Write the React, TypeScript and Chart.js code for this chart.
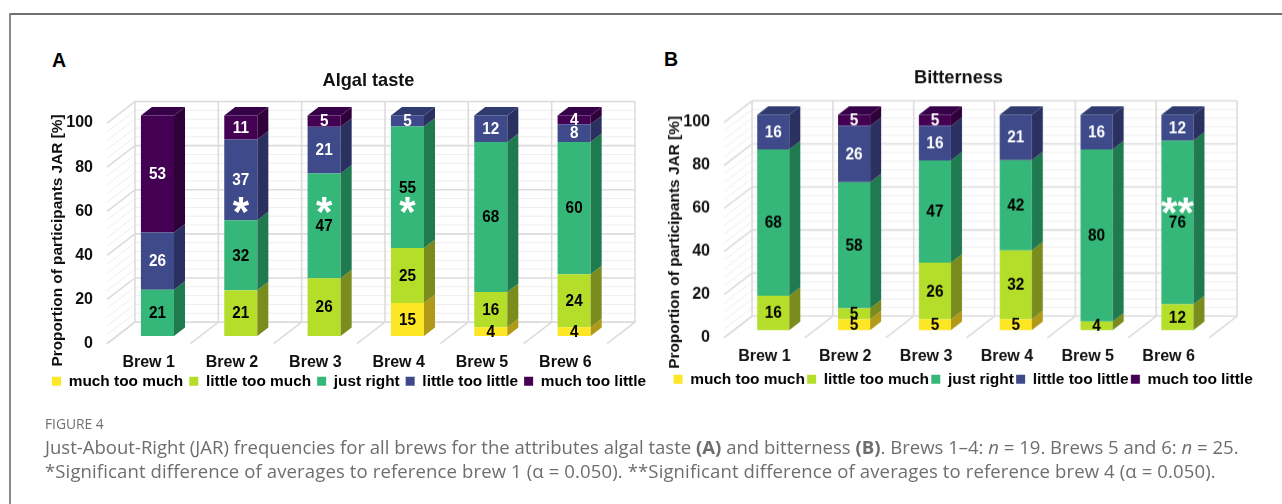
import React, { useEffect, useRef } from "react";
import { Chart, registerables } from "chart.js";

Chart.register(...registerables);

const brews = ["Brew 1", "Brew 2", "Brew 3", "Brew 4", "Brew 5", "Brew 6"];
const seriesNames = ["much too much", "little too much", "just right", "little too little", "much too little"];
const frontColors = ["#FDE725", "#B5DE2B", "#35B779", "#3E4A89", "#440154"];
const sideColors = ["#B09A18", "#7A8C1E", "#1F7A50", "#2A3060", "#2E0139"];
const topColors = ["#D0B81C", "#93A822", "#28915F", "#2F3B6E", "#37014A"];
const labelColors = ["#000", "#000", "#000", "#fff", "#fff"];

const algalMuchTooMuch = [0, 0, 0, 15, 4, 4];
const algalLittleTooMuch = [0, 21, 26, 25, 16, 24];
const algalJustRight = [21, 32, 47, 55, 68, 60];
const algalLittleTooLittle = [26, 37, 21, 5, 12, 8];
const algalMuchTooLittle = [53, 11, 5, 0, 0, 4];

const bitterMuchTooMuch = [0, 5, 5, 5, 0, 0];
const bitterLittleTooMuch = [16, 5, 26, 32, 4, 12];
const bitterJustRight = [68, 58, 47, 42, 80, 76];
const bitterLittleTooLittle = [16, 26, 16, 21, 16, 12];
const bitterMuchTooLittle = [0, 5, 5, 0, 0, 0];

const algalMarks: [number, string, number][] = [[1, "*", 60.6], [2, "*", 60.6], [3, "*", 60.6]];
const bitterMarks: [number, string, number][] = [[5, "**", 59]];

const FONT = '"Liberation Sans", Arial, sans-serif';
const TEXT = "#111";

type Panel = {
  title: string;
  series: number[][];
  marks: [number, string, number][];
  left: number; width: number; height: number;
  yWidth: number; padRight: number; xHeight: number;
  titleTop: number; titleBottom: number;
  legendPad: number; legendAlign: "start" | "end";
  tickPad: number;
  barShare: number;
  titleX: number; titleMid: number;
};

const panelA: Panel = {
  title: "Algal taste",
  series: [algalMuchTooMuch, algalLittleTooMuch, algalJustRight, algalLittleTooLittle, algalMuchTooLittle],
  marks: algalMarks,
  left: 46, width: 645, height: 399, yWidth: 61, padRight: 84, xHeight: 24,
  titleTop: 69.7, titleBottom: 31.5, legendPad: 6, legendAlign: "start", tickPad: 9.4, barShare: 0.397,
  titleX: 58, titleMid: 240.5,
};
const panelB: Panel = {
  title: "Bitterness",
  series: [bitterMuchTooMuch, bitterLittleTooMuch, bitterJustRight, bitterLittleTooLittle, bitterMuchTooLittle],
  marks: bitterMarks,
  left: 662, width: 593, height: 396.5, yWidth: 62, padRight: 46, xHeight: 31.5,
  titleTop: 67.5, titleBottom: 32.7, legendPad: 2.3, legendAlign: "end", tickPad: 8.9, barShare: 0.397,
  titleX: 675, titleMid: 241.7,
};

// depth of the 3D frame and of the bars, as offsets from the front plane
const WALL_DX = 28, WALL_DY = 21.5;
const BAR_DX = 8.8, BAR_DY = 7.5;
const FACE_DX = 11, FACE_DY = 8.5;
const MINOR_STEP = 4;

const frame3d = (panel: Panel) => ({
  id: "frame3d",
  beforeDatasetsDraw(chart: any) {
    const { ctx, scales: { x, y } } = chart;
    const band = (x.right - x.left) / brews.length;
    const y0 = y.getPixelForValue(0), y100 = y.getPixelForValue(100);
    ctx.save();
    ctx.lineCap = "butt";
    for (let v = 0; v <= 100; v += MINOR_STEP) {
      const p = y.getPixelForValue(v);
      ctx.strokeStyle = "#eeeeee"; ctx.lineWidth = 1;
      if (v % 20 !== 0) {
        ctx.beginPath();
        ctx.moveTo(x.left, p); ctx.lineTo(x.left + WALL_DX, p - WALL_DY);
        ctx.lineTo(x.right + WALL_DX, p - WALL_DY);
        ctx.stroke();
      }
    }
    for (let v = 0; v <= 100; v += 20) {
      const p = y.getPixelForValue(v);
      ctx.strokeStyle = "#dcdcdc"; ctx.lineWidth = 1.6;
      ctx.beginPath();
      ctx.moveTo(x.left, p); ctx.lineTo(x.left + WALL_DX, p - WALL_DY);
      ctx.lineTo(x.right + WALL_DX, p - WALL_DY);
      ctx.stroke();
    }
    for (let i = 0; i <= brews.length; i++) {
      const px = x.left + i * band;
      ctx.strokeStyle = "#dcdcdc"; ctx.lineWidth = 1.6;
      ctx.beginPath();
      ctx.moveTo(px, y0); ctx.lineTo(px + WALL_DX, y0 - WALL_DY);
      ctx.lineTo(px + WALL_DX, y100 - WALL_DY);
      ctx.stroke();
    }
    ctx.restore();
    // axis title, placed by hand because it runs lower than the plot's middle
    ctx.save();
    ctx.translate(panel.titleX - panel.left, panel.titleMid);
    ctx.rotate(-Math.PI / 2);
    ctx.font = `bold 15.4px ${FONT}`;
    ctx.fillStyle = TEXT;
    ctx.textAlign = "center";
    ctx.textBaseline = "middle";
    ctx.fillText("Proportion of participants JAR [%]", 0, 0);
    ctx.restore();
    ctx.save();
    ctx.translate(BAR_DX, -BAR_DY);
  },
  afterDatasetsDraw(chart: any) {
    const { ctx, scales: { x, y } } = chart;
    // side and top faces
    chart.data.datasets.forEach((ds: any, d: number) => {
      const meta = chart.getDatasetMeta(d);
      meta.data.forEach((bar: any, i: number) => {
        if (!ds.data[i]) return;
        const right = bar.x + bar.width / 2, left = bar.x - bar.width / 2;
        ctx.fillStyle = sideColors[d];
        ctx.beginPath();
        ctx.moveTo(right, bar.base); ctx.lineTo(right + FACE_DX, bar.base - FACE_DY);
        ctx.lineTo(right + FACE_DX, bar.y - FACE_DY); ctx.lineTo(right, bar.y);
        ctx.closePath(); ctx.fill();
        const above = panel.series.slice(d + 1).some((s) => s[i] > 0);
        if (!above) {
          ctx.fillStyle = topColors[d];
          ctx.beginPath();
          ctx.moveTo(left, bar.y); ctx.lineTo(left + FACE_DX, bar.y - FACE_DY);
          ctx.lineTo(right + FACE_DX, bar.y - FACE_DY); ctx.lineTo(right, bar.y);
          ctx.closePath(); ctx.fill();
        }
      });
    });
    // value labels, narrowed a little as in the reference
    ctx.textAlign = "center";
    ctx.textBaseline = "middle";
    ctx.font = `bold 17.4px ${FONT}`;
    chart.data.datasets.forEach((ds: any, d: number) => {
      const meta = chart.getDatasetMeta(d);
      meta.data.forEach((bar: any, i: number) => {
        const raw = panel.series[d][i];
        if (!raw) return;
        ctx.fillStyle = labelColors[d];
        ctx.save();
        ctx.translate(bar.x, (bar.y + bar.base) / 2 + 0.5);
        ctx.scale(0.88, 1);
        ctx.fillText(String(raw), 0, 0);
        ctx.restore();
      });
    });
    // significance marks
    ctx.fillStyle = "#fff";
    ctx.textBaseline = "alphabetic";
    ctx.font = `bold 42px ${FONT}`;
    panel.marks.forEach(([i, mark, v]) => {
      ctx.fillText(mark, x.getPixelForValue(i), y.getPixelForValue(v) + 23.5);
    });
    ctx.restore();
  },
});

function PanelChart({ panel }: { panel: Panel }) {
  const ref = useRef<HTMLCanvasElement>(null);
  useEffect(() => {
    const totals = brews.map((_, i) => panel.series.reduce((a, s) => a + s[i], 0));
    const chart = new Chart(ref.current!, {
      type: "bar",
      data: {
        labels: brews,
        datasets: seriesNames.map((name, d) => ({
          label: name,
          data: panel.series[d].map((v, i) => (v / totals[i]) * 100),
          backgroundColor: frontColors[d],
          borderWidth: 0,
          clip: false as any,
          categoryPercentage: 1,
          barPercentage: panel.barShare,
        })),
      },
      options: {
        animation: false,
        responsive: false,
        devicePixelRatio: 1,
        layout: { autoPadding: false, padding: 0 },
        plugins: {
          tooltip: { enabled: false },
          title: {
            display: true,
            text: panel.title,
            color: TEXT,
            font: { family: FONT, size: 18.2, weight: "bold", lineHeight: 1.2 },
            padding: { top: panel.titleTop, bottom: panel.titleBottom },
          },
          legend: {
            display: true,
            position: "bottom",
            align: panel.legendAlign,
            labels: {
              boxWidth: 9,
              boxHeight: 9,
              padding: panel.legendPad,
              color: "#000",
              font: { family: FONT, size: 15.4, weight: "bold", lineHeight: 1.2 },
            },
          },
        },
        scales: {
          x: {
            stacked: true,
            grid: { display: false, drawTicks: false },
            border: { display: false },
            ticks: { color: TEXT, padding: panel.tickPad, maxRotation: 0, font: { family: FONT, size: 16, weight: "bold" } },
            afterFit: (s: any) => {
              s.height = panel.xHeight;
              s._computeLabelArea = () => undefined; // labels may run into the legend's box
            },
          },
          y: {
            stacked: true,
            min: 0,
            max: 100,
            grid: { display: false, drawTicks: false },
            border: { display: false },
            ticks: { stepSize: 20, color: TEXT, padding: 14, font: { family: FONT, size: 16, weight: "bold" } },
            afterFit: (s: any) => { s.width = panel.yWidth; },
          },
          spacer: {
            position: "right",
            grid: { display: false },
            border: { display: false },
            ticks: { display: false },
            afterFit: (s: any) => { s.width = panel.padRight; },
          },
        },
      },
      plugins: [frame3d(panel)],
    } as any);
    return () => chart.destroy();
  }, [panel]);
  return (
    <canvas
      ref={ref}
      width={panel.width}
      height={panel.height}
      style={{ position: "absolute", left: panel.left, top: 0, width: panel.width, height: panel.height, filter: "blur(0.4px)" }}
    />
  );
}

const capFont = '"Open Sans", sans-serif';
const capLine: React.CSSProperties = {
  position: "absolute", left: 45, whiteSpace: "nowrap", fontFamily: capFont, fontSize: 18.55,
  color: "#6e6e6e", lineHeight: "20px", filter: "blur(0.3px)",
};
const letter: React.CSSProperties = {
  position: "absolute", fontFamily: FONT, fontWeight: "bold", fontSize: 19.5, color: "#000", lineHeight: "20px",
};

export default function App() {
  return (
    <div style={{ position: "absolute", left: 0, top: 0, width: 1282, height: 504, background: "#fff", overflow: "hidden" }}>
      <div style={{ position: "absolute", left: 9, top: 13, right: 0, height: 1.5, background: "#6f6f6f" }} />
      <div style={{ position: "absolute", left: 9, top: 13, bottom: 0, width: 1.5, background: "#8a8a8a" }} />
      <div style={{ ...letter, left: 52, top: 50 }}>A</div>
      <div style={{ ...letter, left: 664, top: 49 }}>B</div>
      <PanelChart panel={panelB} />
      <PanelChart panel={panelA} />
      <div style={{ ...capLine, top: 414, fontSize: 13.8, color: "#707070" }}>FIGURE 4</div>
      <div style={{ ...capLine, top: 437 }}>
        Just-About-Right (JAR) frequencies for all brews for the attributes algal taste <b>(A)</b> and bitterness <b>(B)</b>. Brews 1–4: <i>n</i> = 19. Brews 5 and 6: <i>n</i> = 25.
      </div>
      <div style={{ ...capLine, top: 461, letterSpacing: 0.12 }}>
        *Significant difference of averages to reference brew 1 (α = 0.050). **Significant difference of averages to reference brew 4 (α = 0.050).
      </div>
    </div>
  );
}
